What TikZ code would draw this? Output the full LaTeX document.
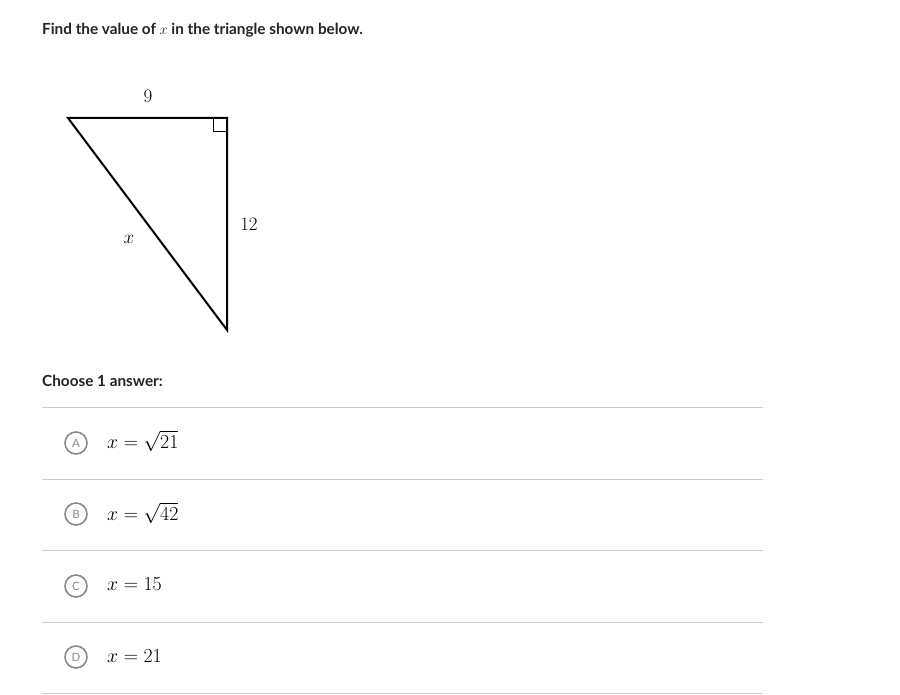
\documentclass[tikz,border=0pt]{standalone}
\usepackage{fontspec}
\setmainfont{Lato}
\newfontfamily\latofont{Lato}
\definecolor{txtgray}{HTML}{21242C}
\definecolor{rulegray}{HTML}{CCCCCC}
\definecolor{circgray}{HTML}{8A8A8A}
\begin{document}
\begin{tikzpicture}[x=1pt,y=-1pt,
  heading/.style={anchor=west,inner sep=0pt,text=txtgray,font=\latofont\bfseries\fontsize{15.3}{17}\selectfont},
  mathlbl/.style={inner sep=0pt,scale=1.1,transform shape,font=\fontsize{17.28}{19}\selectfont},
  answer/.style={anchor=west,inner sep=0pt,scale=1.15,transform shape,font=\fontsize{17.28}{19}\selectfont},
  choice/.style={circle,draw=circgray,line width=1.6pt,minimum size=22pt,inner sep=0pt,text=circgray,font=\latofont\fontsize{11.5}{12}\selectfont},
  sep/.style={draw=rulegray,line width=1pt},
  tri/.style={line width=2pt,line join=miter}]
\useasboundingbox (0,0) rectangle (900,695);
\fill[white] (0,0) rectangle (900,695);
\node[heading] (title) at (42,30) {Find the value of $x$ in the triangle shown below.};
% triangle
\coordinate (A) at (68,118);
\coordinate (B) at (227,118);
\coordinate (C) at (227,330);
\draw[tri] (A) -- (B) -- (C) -- cycle;
\draw[line width=1pt] (213,118) -- (213,132) -- (227,132);
\node[mathlbl] (l9) at (148,96) {$9$};
\node[mathlbl] (l12) at (249,224) {$12$};
\node[mathlbl] (lx) at (129,239) {$x$};
\node[heading] (choose) at (42,381) {Choose 1 answer:};
\foreach \y/\n in {407/r1,479/r2,550/r3,622/r4,693/r5}{
  \coordinate (\n a) at (42,\y);
  \coordinate (\n b) at (763,\y);
  \draw[sep] (\n a) -- (\n b);
}
\node[choice] (cA) at (76,443) {A};
\node[choice] (cB) at (76,514) {B};
\node[choice] (cC) at (76,586) {C};
\node[choice] (cD) at (76,657) {D};
\node[answer] (aA) at (107,441) {$x=\sqrt{21}$};
\node[answer] (aB) at (107,513) {$x=\sqrt{42}$};
\node[answer] (aC) at (107,584) {$x=15$};
\node[answer] (aD) at (107,656) {$x=21$};
\end{tikzpicture}
\end{document}
